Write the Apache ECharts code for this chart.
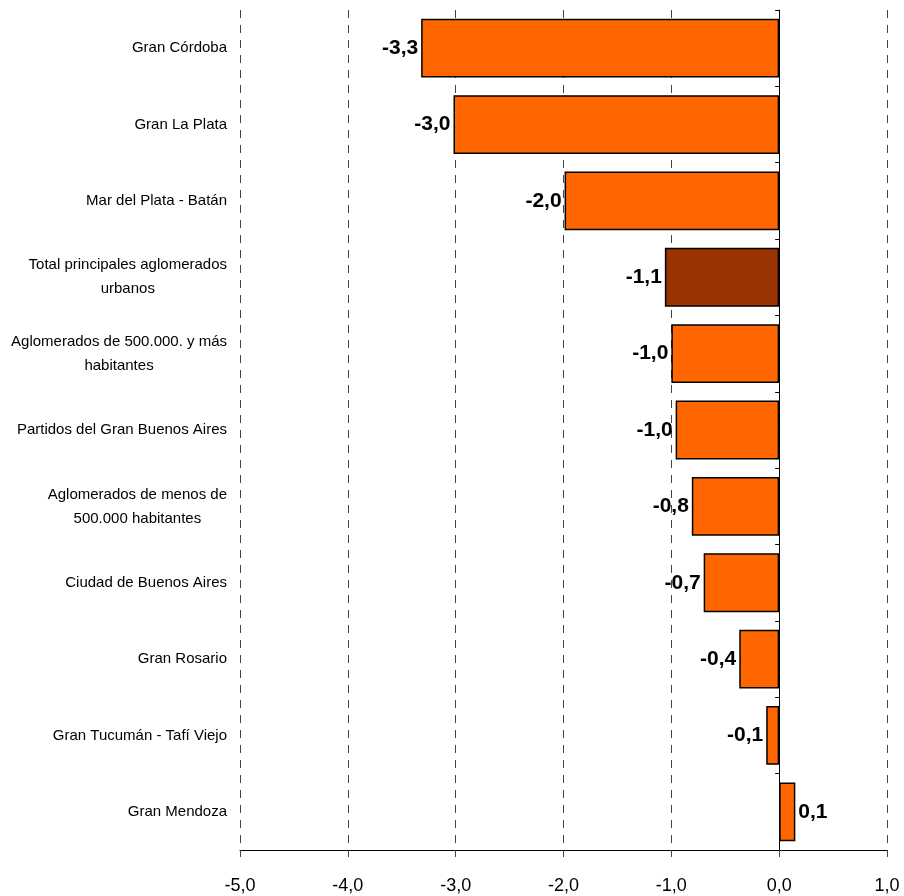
<!DOCTYPE html>
<html>
<head>
<meta charset="utf-8">
<script src="https://cdn.jsdelivr.net/npm/echarts@6/dist/echarts.min.js"></script>
<style>
  html, body { margin: 0; padding: 0; background: #fff; }
  #chart { width: 904px; height: 896px; }
</style>
</head>
<body>
<div id="chart"></div>
<script>
var categories = [
    'Gran Córdoba',
    'Gran La Plata',
    'Mar del Plata - Batán',
    'Total principales aglomerados\nurbanos',
    'Aglomerados de 500.000. y más\nhabitantes',
    'Partidos del Gran Buenos Aires',
    'Aglomerados de menos de\n500.000 habitantes',
    'Ciudad de Buenos Aires',
    'Gran Rosario',
    'Gran Tucumán - Tafí Viejo',
    'Gran Mendoza'
];
var values = [-3.32, -3.02, -1.99, -1.06, -1.0, -0.96, -0.81, -0.7, -0.37, -0.12, 0.15];
var highlightIndex = 3;
var xTicks = [-5, -4, -3, -2, -1, 0, 1];

var fontFamily = "'Liberation Sans', Arial, sans-serif";

function fmt(v) {
    return v.toFixed(1).replace('.', ',');
}

var chart = echarts.init(document.getElementById('chart'));

var seriesData = values.map(function (v, i) {
    return {
        value: v,
        itemStyle: {
            color: i === highlightIndex ? '#993300' : '#FF6600'
        },
        label: {
            position: v < 0 ? 'left' : 'right'
        }
    };
});

var option = {
    animation: false,
    grid: { left: 240, right: 17, top: 10, bottom: 46 },
    xAxis: {
        type: 'value',
        min: xTicks[0],
        max: xTicks[xTicks.length - 1],
        interval: 1,
        axisLine: { show: true, onZero: false, lineStyle: { color: '#000', width: 1 } },
        axisTick: { show: true, length: 7, lineStyle: { color: '#444' } },
        axisLabel: {
            margin: 27,
            fontSize: 18,
            color: '#000',
            fontFamily: fontFamily,
            formatter: function (v) { return fmt(v); }
        },
        splitLine: {
            show: true,
            lineStyle: { color: '#444', type: [8, 7], width: 1 }
        }
    },
    yAxis: [
        {
            type: 'category',
            data: categories,
            inverse: true,
            position: 'left',
            axisLine: { show: false, onZero: false },
            axisTick: { show: false },
            axisLabel: {
                margin: 13,
                fontSize: 15,
                color: '#000',
                fontFamily: fontFamily,
                align: 'right',
                formatter: function (v) {
                    return v.split('\n').map(function (s) { return '{c|' + s + '}'; }).join('\n');
                },
                rich: {
                    c: { align: 'center', fontSize: 15, fontFamily: fontFamily, color: '#000', lineHeight: 24 }
                }
            },
            splitLine: { show: false }
        },
        {
            type: 'category',
            data: categories,
            inverse: true,
            position: 'right',
            axisLine: { show: true, onZero: true, lineStyle: { color: '#000', width: 1 } },
            axisTick: { show: true, inside: true, length: 4, lineStyle: { color: '#000' } },
            axisLabel: { show: false },
            splitLine: { show: false }
        }
    ],
    series: [
        {
            type: 'bar',
            yAxisIndex: 0,
            data: seriesData,
            barCategoryGap: '23%',
            itemStyle: { borderColor: '#000', borderWidth: 1.5 },
            label: {
                show: true,
                distance: 3,
                fontSize: 21,
                fontWeight: 'bold',
                color: '#000',
                fontFamily: fontFamily,
                formatter: function (p) { return fmt(p.value); }
            },
            z: 3
        }
    ]
};

chart.setOption(option);
</script>
</body>
</html>
